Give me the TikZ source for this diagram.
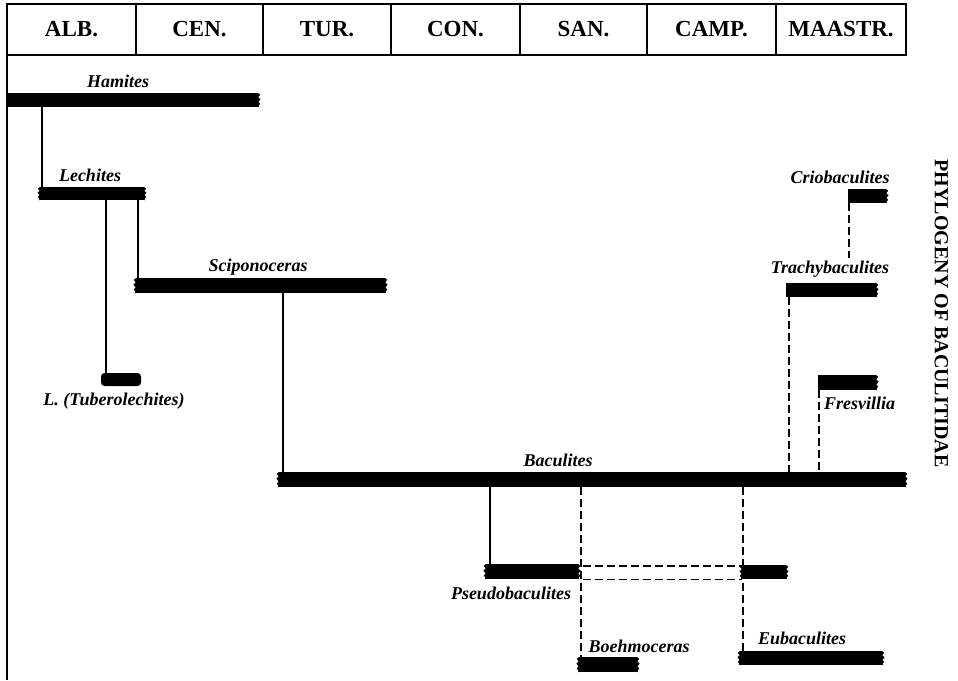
\documentclass[tikz,border=0pt]{standalone}
\usepackage{fontspec}
\setmainfont{Liberation Serif}
\usetikzlibrary{calc}

% a stratigraphic range bar given by its corners: name, x1, y1, x2, y2
\newcommand\taxonbar[6][]{%
  \node[rangebar, #1, minimum width={(#4-#2)*1pt}, minimum height={(#5-#3)*1pt}] (#6) at (#2,#3) {};}
% torn end of a range bar: node, side (east/west), direction (1/-1)
\newcommand\tornend[3]{%
  \fill (#1.north #2)
    -- ($(#1.north #2)!0.12!(#1.south #2)+({2.2*(#3)},0)$)
    -- ($(#1.north #2)!0.30!(#1.south #2)+({0.3*(#3)},0)$)
    -- ($(#1.north #2)!0.45!(#1.south #2)+({2.6*(#3)},0)$)
    -- ($(#1.north #2)!0.62!(#1.south #2)+({0.4*(#3)},0)$)
    -- ($(#1.north #2)!0.78!(#1.south #2)+({2.1*(#3)},0)$)
    -- ($(#1.north #2)!0.92!(#1.south #2)+({0.5*(#3)},0)$)
    -- ($(#1.south #2)+({1.2*(#3)},0)$)
    -- (#1.south #2) -- cycle;}

\tikzset{
  stage/.style={draw, line width=1.3pt, anchor=north west, minimum height=51pt,
    font=\fontsize{23}{25}\selectfont\bfseries},
  rangebar/.style={fill=black, anchor=north west},
  taxon/.style={anchor=base, font=\fontsize{18}{20}\selectfont\bfseries\itshape},
  link/.style={line width=1.3pt},
  dashlink/.style={line width=1.3pt, dash pattern=on 7.5pt off 4.5pt},
}

\begin{document}
\begin{tikzpicture}[x=1pt, y=-1pt, every node/.append style={inner sep=0pt, outer sep=0pt}]
\useasboundingbox (0,0) rectangle (958,680);

% stage header
\node[stage, minimum width=129pt] (alb)  at (7,4)   {ALB.};
\node[stage, minimum width=127pt] (cen)  at (136,4) {CEN.};
\node[stage, minimum width=128pt] (tur)  at (263,4) {TUR.};
\node[stage, minimum width=129pt] (con)  at (391,4) {CON.};
\node[stage, minimum width=127pt] (san)  at (520,4) {SAN.};
\node[stage, minimum width=129pt] (camp) at (647,4) {CAMP.};
\node[stage, minimum width=130pt] (maas) at (776,4) {MAASTR.};
\coordinate (framebottom) at (7,680);
\draw[line width=2pt] (alb.south west) -- (framebottom);

% range bars
\taxonbar{7}{93}{258}{107}{hamites}
\taxonbar{40}{187}{144}{200}{lechites}
\taxonbar[rounded corners=3.5pt]{101}{373}{141}{386}{tuber}
\taxonbar{136}{278}{385}{293}{scipo}
\taxonbar{279}{472}{905}{487}{baculites}
\taxonbar{486}{564}{578}{579}{pseudo}
\taxonbar{742}{565}{786}{579}{eubranch}
\taxonbar{579}{657}{637}{672}{boehm}
\taxonbar{740}{651}{882}{665}{eubac}
\taxonbar{848}{189}{886}{203}{crio}
\taxonbar{786}{283}{876}{297}{trachy}
\taxonbar{818}{375}{876}{390}{fresv}

\foreach \b in {hamites,lechites,scipo,baculites,pseudo,eubranch,boehm,eubac,crio,trachy,fresv}
  {\tornend{\b}{east}{1}}
\foreach \b in {lechites,scipo,baculites,pseudo,eubranch,boehm,eubac}
  {\tornend{\b}{west}{-1}}

% taxon names
\node[taxon] (hamlab)   at (118,87)  {Hamites};
\node[taxon] (lechlab)  at (90,181)  {Lechites};
\node[taxon] (tuberlab) at (114,405) {L. (Tuberolechites)};
\node[taxon] (sciplab)  at (258,271) {Sciponoceras};
\node[taxon] (baclab)   at (558,466) {Baculites};
\node[taxon] (pseudlab) at (511,599) {Pseudobaculites};
\node[taxon] (boehlab)  at (639,652) {Boehmoceras};
\node[taxon] (eublab)   at (802,644) {Eubaculites};
\node[taxon] (criolab)  at (840,183) {Criobaculites};
\node[taxon] (trachlab) at (830,273) {Trachybaculites};
\node[taxon, anchor=base west] (fresvlab) at (824,409) {Fresvillia};

% certain descent
\draw[link] ([xshift=2pt]lechites.north west |- hamites.south) -- ([xshift=2pt]lechites.north west);
\draw[link] ([xshift=5pt]tuber.north west |- lechites.south) -- ([xshift=5pt]tuber.north west);
\draw[link] ([xshift=2pt]scipo.north west |- lechites.south) -- ([xshift=2pt]scipo.north west);
\draw[link] ([xshift=4pt]baculites.north west |- scipo.south) -- ([xshift=4pt]baculites.north west);
\draw[link] ([xshift=4pt]pseudo.north west |- baculites.south) -- ([xshift=4pt]pseudo.north west);

% uncertain descent
\draw[dashlink] ([xshift=2pt]boehm.north west |- baculites.south) -- ([xshift=2pt]boehm.north west);
\draw[dashlink] ([xshift=3pt]eubac.north west |- baculites.south) -- ([xshift=3pt]eubac.north west);
\draw[dashlink] ([xshift=5pt,yshift=-2pt]pseudo.north east) -- ([yshift=-2pt]pseudo.north east -| eubranch.west);
\draw[dashlink] ([xshift=5pt,yshift=-0.5pt]pseudo.south east) -- ([yshift=-0.5pt]pseudo.south east -| eubranch.west);
\draw[dashlink] ([xshift=3pt]trachy.south west) -- ([xshift=3pt]trachy.south west |- baculites.north);
\draw[dashlink] ([xshift=1pt]fresv.south west) -- ([xshift=1pt]fresv.south west |- baculites.north);
\draw[dashlink] ([xshift=1pt]crio.south west) -- ([xshift=1pt,yshift=2.5pt]crio.south west |- trachlab.north);

% title
\node[rotate=-90, font=\fontsize{20}{22}\selectfont\bfseries] (title) at (941.5,313.5) {PHYLOGENY OF BACULITIDAE};
\end{tikzpicture}
\end{document}
